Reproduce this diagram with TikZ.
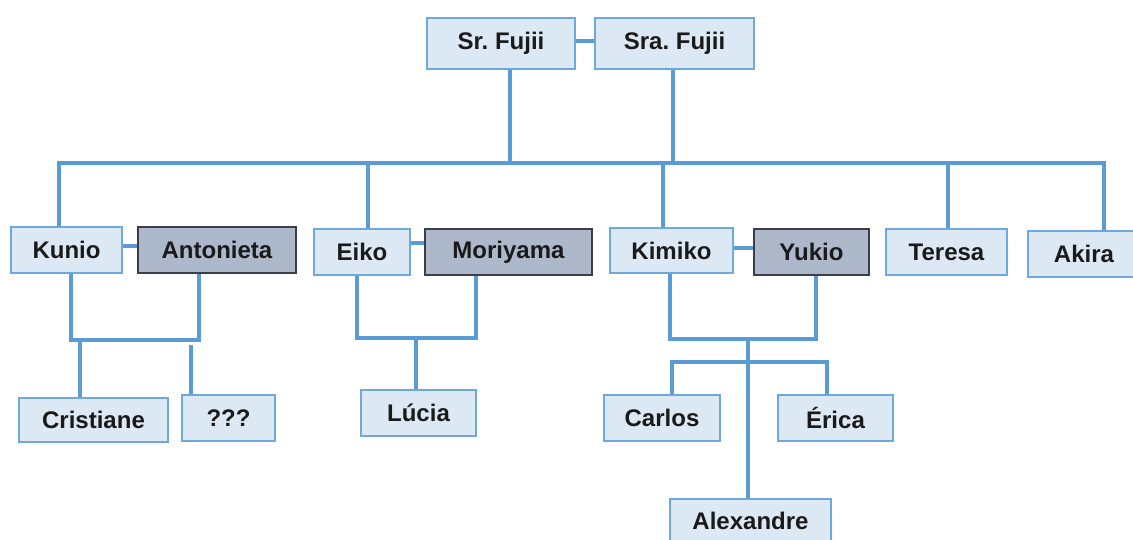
\documentclass[tikz,border=0pt]{standalone}
\usepackage{fontspec}
\setmainfont{Liberation Sans}
\frenchspacing
\usetikzlibrary{backgrounds}
\definecolor{lineblue}{HTML}{5B9BD5}
\definecolor{boxfill}{HTML}{DDE8F5}
\definecolor{boxedge}{HTML}{6FA8DC}
\definecolor{darkfill}{HTML}{ADB9CA}
\definecolor{darkedge}{HTML}{3A3F47}
\definecolor{txt}{HTML}{1A1A1A}
\begin{document}
\begin{tikzpicture}[x=1pt,y=-1pt,
  pbox/.style={draw=boxedge, fill=boxfill, line width=2pt, inner sep=0pt,
    font=\fontsize{24}{28}\selectfont\bfseries, text=txt},
  sbox/.style={pbox, draw=darkedge, fill=darkfill},
  conn/.style={draw=lineblue, line width=3.2pt, line join=miter}]
\useasboundingbox (0,0) rectangle (1133,540);
\clip (0,0) rectangle (1133,540);

% generation 1
\node[pbox, minimum width=148pt, minimum height=51pt] (srf) at (501,43.5) {Sr.\ Fujii};
\node[pbox, minimum width=159pt, minimum height=51pt] (sraf) at (674.5,43.5) {Sra.\ Fujii};

% generation 2
\node[pbox, minimum width=111pt, minimum height=46pt] (kunio) at (66.5,250) {Kunio};
\node[sbox, minimum width=158pt, minimum height=46pt] (anton) at (217,250) {Antonieta};
\node[pbox, minimum width=96pt, minimum height=46pt] (eiko) at (362,252) {Eiko};
\node[sbox, minimum width=167pt, minimum height=46pt] (mori) at (508.5,252) {Moriyama};
\node[pbox, minimum width=123pt, minimum height=45pt] (kimiko) at (671.5,250.5) {Kimiko};
\node[sbox, minimum width=115pt, minimum height=46pt] (yukio) at (811.5,252) {Yukio};
\node[pbox, minimum width=121pt, minimum height=46pt] (teresa) at (946.5,252) {Teresa};
\node[pbox, minimum width=112pt, minimum height=46pt] (akira) at (1084,254) {Akira};

% generation 3
\node[pbox, minimum width=149pt, minimum height=44pt] (crist) at (93.5,420) {Cristiane};
\node[pbox, minimum width=93pt, minimum height=46pt] (unk) at (228.5,418) {???};
\node[pbox, minimum width=115pt, minimum height=46pt] (lucia) at (418.5,413) {Lúcia};
\node[pbox, minimum width=116pt, minimum height=46pt] (carlos) at (662,418) {Carlos};
\node[pbox, minimum width=115pt, minimum height=46pt] (erica) at (835.5,418) {Érica};
\node[pbox, minimum width=161pt, minimum height=44pt] (alex) at (750.5,521) {Alexandre};

\coordinate (busL) at (59,163);
\coordinate (busR) at (1104,163);

\begin{scope}[on background layer]
  \fill[white] (0,0) rectangle (1133,540);
  % parents
  \draw[conn] (srf.east |- 0,41) -- (sraf.west |- 0,41);
  \draw[conn] (510,0 |- srf.south) -- (510,163);
  \draw[conn] (673,0 |- sraf.south) -- (673,163);
  % bus to children
  \draw[conn] (59,0 |- kunio.north) -- (busL) -- (busR) -- (1104,0 |- akira.north);
  \draw[conn] (368,163) -- (368,0 |- eiko.north);
  \draw[conn] (663,163) -- (663,0 |- kimiko.north);
  \draw[conn] (948,163) -- (948,0 |- teresa.north);
  % Kunio family
  \draw[conn] (kunio.east |- 0,246) -- (anton.west |- 0,246);
  \draw[conn] (71,0 |- kunio.south) -- (71,340) -- (199,340) -- (199,0 |- anton.south);
  \draw[conn] (80,340) -- (80,0 |- crist.north);
  \draw[conn] (191,345) -- (191,0 |- unk.north);
  % Eiko family
  \draw[conn] (eiko.east |- 0,243) -- (mori.west |- 0,243);
  \draw[conn] (357,0 |- eiko.south) -- (357,338) -- (476,338) -- (476,0 |- mori.south);
  \draw[conn] (416,338) -- (416,0 |- lucia.north);
  % Kimiko family
  \draw[conn] (kimiko.east |- 0,248) -- (yukio.west |- 0,248);
  \draw[conn] (670,0 |- kimiko.south) -- (670,339) -- (816,339) -- (816,0 |- yukio.south);
  \draw[conn] (748,339) -- (748,0 |- alex.north);
  \draw[conn] (672,0 |- carlos.north) -- (672,362) -- (827,362) -- (827,0 |- erica.north);
\end{scope}
\end{tikzpicture}
\end{document}
